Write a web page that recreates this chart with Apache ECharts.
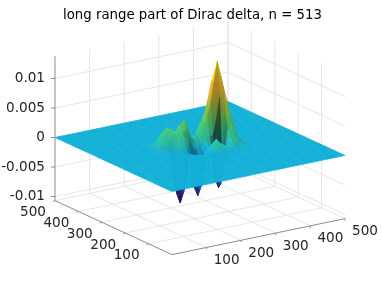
<!DOCTYPE html>
<html><head><meta charset="utf-8">
<style>html,body{margin:0;padding:0;background:#fff}#c{width:382px;height:286px}</style>
<script src="https://cdn.jsdelivr.net/npm/echarts@6/dist/echarts.min.js"></script>
</head><body><div id="c"></div>
<script>
const titleText = 'long range part of Dirac delta, n = 513';
const xTicks = [100,200,300,400,500];
const yTicks = [100,200,300,400,500];
const zTicks = [-0.01,-0.005,0,0.005,0.01];
const zTickLabels = ['-0.01','-0.005','0','0.005','0.01'];
// heights, in units of 1e-4; zero everywhere outside this window
const tableXs = [140,150,160,170,180,190,200,210,220,230,240,250,260,270,280,290,300,310,320,330,340,350];
const tableYs = [350,340,330,320,310,300,290,280,270,260,250,240,230,220,210,200,190,180];
const z350=[0,0,0,0,0,0,0,0,-1,-3,-5,-3,-1,0,0,0,0,0,0,0,0,0];
const z340=[0,0,0,0,0,0,0,-1,-9,-25,-35,-25,-9,-1,0,0,0,0,0,0,0,0];
const z330=[0,0,0,1,1,1,0,-3,-26,-70,-90,-70,-26,-3,0,0,0,0,0,0,0,0];
const z320=[0,1,2,3,4,3,2,-6,-40,-90,-107,-90,-40,-6,-1,0,0,0,0,0,0,0];
const z310=[1,2,5,10,13,10,5,-2,-24,-70,-90,-70,-26,-3,0,0,0,0,0,0,0,0];
const z300=[1,4,10,21,26,21,11,4,-7,-25,-35,-25,-9,1,1,0,0,0,0,0,0,0];
const z290=[1,4,13,26,33,29,18,10,5,0,-3,0,4,8,7,6,5,3,2,1,0,0];
const z280=[1,4,10,21,29,29,25,23,16,9,6,9,14,20,22,23,22,16,9,3,0,0];
const z270=[1,2,5,10,18,25,35,40,31,17,10,16,29,39,49,60,64,50,26,10,2,0];
const z260=[0,1,2,4,10,22,40,47,35,17,10,17,34,52,74,104,120,97,54,22,5,1];
const z250=[0,0,0,1,6,16,29,33,16,-3,-4,10,28,45,67,104,138,112,75,35,8,2];
const z240=[0,0,0,1,3,8,12,5,-30,-52,-40,-5,13,17,15,40,80,97,72,41,11,2];
const z230=[0,0,0,0,0,1,-1,-16,-62,-77,-62,-15,4,-4,-55,-71,-20,50,55,38,13,3];
const z220=[0,0,0,0,0,0,-2,-15,-50,-64,-45,-9,5,1,-40,-62,-25,25,35,28,10,2];
const z210=[0,0,0,0,0,0,-1,-5,-16,-22,-11,3,12,17,4,-9,1,15,21,16,6,1];
const z200=[0,0,0,0,0,0,0,-1,-3,-3,0,5,11,14,9,5,6,8,9,7,3,1];
const z190=[0,0,0,0,0,0,0,0,0,0,2,4,6,8,6,4,4,3,3,3,1,0];
const z180=[0,0,0,0,0,0,0,0,0,0,0,1,2,3,2,1,1,1,1,1,0,0];
const zRows=[z350,z340,z330,z320,z310,z300,z290,z280,z270,z260,z250,z240,z230,z220,z210,z200,z190,z180];

const zUnit=1e-4, zMin=-0.0107, zMax=0.0138, ext=500, step=10;
function h(x,y){const r=tableYs.indexOf(y),c=tableXs.indexOf(x);return (r<0||c<0)?0:zRows[r][c];}
function proj(x,y,z){return [172+0.346*x-0.234*y, 191.5-0.072*x-0.108*y-5900*z];}

const stops=[[0,.2422,.1504,.6603],[.11,.281,.3228,.9579],[.26,.1786,.5289,.9682],[.4365,.07,.69,.845],[.47,.15,.74,.68],[.56,.25,.79,.5],[.67,.55,.78,.28],[.8,.97,.72,.22],[.93,.98,.85,.15],[1,.9763,.9831,.0538]];
function parula(t){t=Math.max(0,Math.min(1,t));for(let i=1;i<stops.length;i++){if(t<=stops[i][0]){const a=stops[i-1],b=stops[i],f=(t-a[0])/(b[0]-a[0]);return [a[1]+f*(b[1]-a[1]),a[2]+f*(b[2]-a[2]),a[3]+f*(b[3]-a[3])];}}return stops[stops.length-1].slice(1);}
const L=[-0.35,0.25,0.9];
function brightness(x,y){
  const a=h(x,y),b=h(x+step,y),c=h(x+step,y+step),d=h(x,y+step);
  const m=(a+b+c+d)/4;
  const s=step;
  const sx=(h(x+2*s,y)+h(x+2*s,y+s)-h(x-s,y)-h(x-s,y+s))/6*0.035;
  const sy=(h(x,y+2*s)+h(x+s,y+2*s)-h(x,y-s)-h(x+s,y-s))/6*0.035;
  const n=Math.sqrt(sx*sx+sy*sy+1);
  const dot=(-sx*L[0]-sy*L[1]+L[2])/n;
  let br=0.5+0.5*dot/L[2];
  br=Math.max(0.5,Math.min(1.1,br));
  const ring=(h(x-s,y)+h(x-s,y+s)+h(x+2*s,y)+h(x+2*s,y+s)+h(x,y-s)+h(x+s,y-s)+h(x,y+2*s)+h(x+s,y+2*s))/8;
  const dark=Math.max(0,Math.min(0.45,(ring-m)/60));
  return br*(1-dark);
}
function colorAt(zv,br){return 'rgb('+parula((zv*zUnit-zMin)/(zMax-zMin)).map(v=>Math.round(Math.min(1,v*br)*255)).join(',')+')';}
function fillFor(x,y,corners){
  const br=brightness(x,y);
  const zs=corners.map(p=>h(p[0],p[1]));
  const ss=corners.map((p,i)=>proj(p[0],p[1],zs[i]*zUnit)[1]);
  let top=0,bot=0;ss.forEach((v,i)=>{if(v<ss[top])top=i;if(v>ss[bot])bot=i;});
  if(zs[top]===zs[bot])return colorAt(zs[top],br);
  const cs=[0,.25,.5,.75,1].map(f=>({offset:f,color:colorAt(zs[top]+f*(zs[bot]-zs[top]),br)}));
  return new echarts.graphic.LinearGradient(0,0,0,1,cs);
}
const cells=[];
for(let x=0;x<ext;x+=step)for(let y=0;y<ext;y+=step)cells.push([x,y]);
cells.sort((p,q)=>(q[0]*0.072+q[1]*0.108)-(p[0]*0.072+p[1]*0.108));

const wallLines=[];
xTicks.forEach(v=>{wallLines.push([[v,ext,zMin],[v,ext,zMax]]);wallLines.push([[v,0,zMin],[v,ext,zMin]]);});
yTicks.forEach(v=>{wallLines.push([[ext,v,zMin],[ext,v,zMax]]);wallLines.push([[0,v,zMin],[ext,v,zMin]]);});
zTicks.forEach(v=>{wallLines.push([[0,ext,v],[ext,ext,v]]);wallLines.push([[ext,ext,v],[ext,0,v]]);});
const axisLines=[[[0,ext,zMin],[0,ext,zMax]],[[0,ext,zMin],[0,0,zMin]],[[0,0,zMin],[ext,0,zMin]]];
const tickMarks=[];
zTicks.forEach(v=>tickMarks.push([[0,ext,v],[-4,0,0]]));
xTicks.forEach(v=>tickMarks.push([[v,0,zMin],[0.0,2,0]]));
yTicks.forEach(v=>tickMarks.push([[0,v,zMin],[-2,1,0]]));
const labels=[];
zTicks.forEach((v,i)=>labels.push({p:proj(0,ext,v),dx:-10,dy:0,t:zTickLabels[i],a:'right'}));
xTicks.forEach(v=>labels.push({p:proj(v,0,zMin),dx:20,dy:13,t:String(v),a:'center'}));
yTicks.forEach(v=>labels.push({p:proj(0,v,zMin),dx:-22,dy:12,t:String(v),a:'center'}));

function segSeries(list,color,width){return {type:'custom',coordinateSystem:'cartesian2d',clip:false,silent:true,progressive:0,animation:false,
  data:list.map((_,i)=>[i,0]),
  renderItem(params,api){const s=list[params.dataIndex];const a=api.coord(proj(...s[0]));const b=api.coord(proj(...s[1]));
    return {type:'line',shape:{x1:a[0],y1:a[1],x2:b[0],y2:b[1]},style:{stroke:color,lineWidth:width}};}};}
const opt={animation:false,
 title:{text:titleText,left:58,top:4,textStyle:{fontFamily:'DejaVu Sans',fontSize:13.3,fontWeight:'normal',color:'#000'}},
 grid:{left:0,right:0,top:0,bottom:0},
 xAxis:{type:'value',min:0,max:382,show:false},
 yAxis:{type:'value',min:0,max:286,inverse:true,show:false},
 series:[
  segSeries(wallLines,'#e6e6e6',1),
  {type:'custom',coordinateSystem:'cartesian2d',clip:false,silent:true,progressive:0,animation:false,
   data:cells,
   renderItem(params,api){const [x,y]=cells[params.dataIndex];
     const corners=[[x,y],[x+step,y],[x+step,y+step],[x,y+step]];
     const pts=corners.map(p=>api.coord(proj(p[0],p[1],h(p[0],p[1])*zUnit)));
     const col=fillFor(x,y,corners);
     return {type:'polygon',shape:{points:pts},style:{fill:col,stroke:col,lineWidth:0.6}};}},
  segSeries(axisLines,'#8c8c8c',1),
  {type:'custom',coordinateSystem:'cartesian2d',clip:false,silent:true,progressive:0,animation:false,
   data:tickMarks.map((_,i)=>[i,0]),
   renderItem(params,api){const s=tickMarks[params.dataIndex];const a=api.coord(proj(...s[0]));
     return {type:'line',shape:{x1:a[0],y1:a[1],x2:a[0]+s[1][0],y2:a[1]+s[1][1]},style:{stroke:'#8c8c8c',lineWidth:1}};}},
  {type:'custom',coordinateSystem:'cartesian2d',clip:false,silent:true,progressive:0,animation:false,
   data:labels.map((_,i)=>[i,0]),
   renderItem(params,api){const l=labels[params.dataIndex];const a=api.coord(l.p);
     return {type:'text',style:{x:a[0]+l.dx,y:a[1]+l.dy,text:l.t,align:l.a,verticalAlign:'middle',fill:'#262626',font:'13.6px "DejaVu Sans"'}};}}
 ]};
echarts.init(document.getElementById('c'),null,{renderer:'canvas'}).setOption(opt);
</script></body></html>
